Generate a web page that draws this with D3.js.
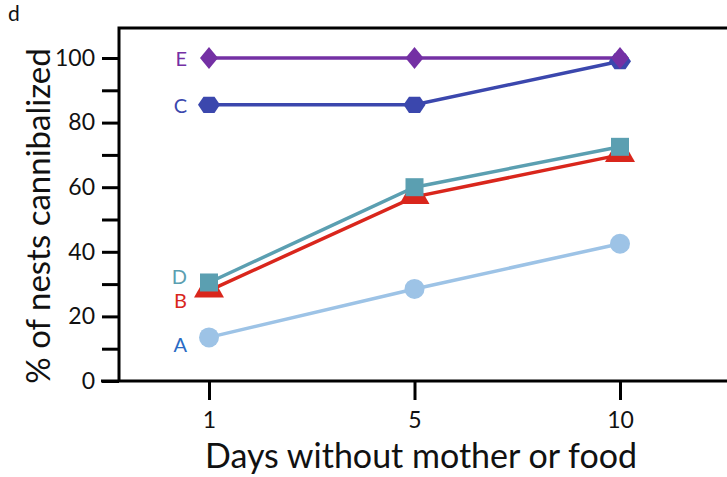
<!DOCTYPE html>
<html><head><meta charset="utf-8">
<script src="https://cdn.jsdelivr.net/npm/d3@7"></script>
<style>body{margin:0;background:#fff}svg{display:block}</style>
</head><body>
<svg id="c" width="727" height="477"></svg>
<script>
const days = ["1", "5", "10"];
const seriesNames = ["A", "B", "C", "D", "E"];
const valuesA = [13.5, 28.5, 42.5];
const valuesB = [28, 57, 70];
const valuesC = [85.5, 85.5, 99];
const valuesD = [30.5, 60, 72.5];
const valuesE = [100, 100, 100];
const yTicks = [0, 20, 40, 60, 80, 100];
const yMinorTicks = [10, 30, 50, 70, 90];

const styles = {
  A: {line: "#9dc3e6", label: "#2a6bc4", shape: "circle"},
  B: {line: "#d9261c", label: "#d9261c", shape: "trap"},
  C: {line: "#3b47ad", label: "#3b47ad", shape: "hex"},
  D: {line: "#5b9fb1", label: "#5b9fb1", shape: "square"},
  E: {line: "#7430a4", label: "#7430a4", shape: "diamond"}
};
const data = {A: valuesA, B: valuesB, C: valuesC, D: valuesD, E: valuesE};

const svg = d3.select("#c");
const font = "Lato, 'Open Sans', sans-serif";
const L = 119, T = 28, B = 381;
const x = d3.scalePoint().domain(days).range([209, 620]);
const y = d3.scaleLinear().domain([0, 100]).range([B, 58]);

// frame
svg.append("path").attr("d", `M${L},${B} V${T} H740`).attr("fill", "none").attr("stroke", "#000").attr("stroke-width", 3);
svg.append("line").attr("x1", L - 18).attr("x2", 740).attr("y1", B).attr("y2", B).attr("stroke", "#000").attr("stroke-width", 3);

// y axis
const yAxis = d3.axisLeft(y).tickValues(yTicks).tickSize(17).tickPadding(7);
const gy = svg.append("g").attr("transform", `translate(${L},0)`).call(yAxis);
gy.select(".domain").remove();
gy.selectAll(".tick line").attr("stroke-width", 3);
gy.selectAll("text").attr("font-family", font).attr("font-size", 23).attr("fill", "#111");
const gym = svg.append("g").attr("transform", `translate(${L},0)`).call(d3.axisLeft(y).tickValues(yMinorTicks).tickSize(17).tickFormat(""));
gym.select(".domain").remove();
gym.selectAll(".tick line").attr("stroke-width", 3);

// x axis
const xAxis = d3.axisBottom(x).tickSize(19).tickPadding(12);
const gx = svg.append("g").attr("transform", `translate(0,${B})`).call(xAxis);
gx.select(".domain").remove();
gx.selectAll(".tick line").attr("stroke-width", 3);
gx.selectAll("text").attr("font-family", font).attr("font-size", 23).attr("fill", "#111");

// titles
svg.append("text").attr("x", 421).attr("y", 468).attr("text-anchor", "middle")
  .attr("font-family", font).attr("font-size", 34).attr("fill", "#111").text("Days without mother or food");
svg.append("text").attr("transform", "translate(50,216) rotate(-90)").attr("text-anchor", "middle")
  .attr("font-family", font).attr("font-size", 33).attr("fill", "#111").text("% of nests cannibalized");
svg.append("text").attr("x", 8).attr("y", 21).attr("font-family", font).attr("font-size", 21).attr("fill", "#111").text("d");

function shapePath(s) {
  switch (s) {
    case "diamond": return "M0,-11 L9,0 L0,11 L-9,0 Z";
    case "hex": { const r = 11; return d3.range(6).map(i => { const a = Math.PI / 3 * i; return (i ? "L" : "M") + (r * Math.cos(a)) + "," + (r * Math.sin(a) * 0.85); }).join("") + "Z"; }
    case "square": return "M-9,-9 H9 V9 H-9 Z";
    case "trap": return "M-7,-7 H7 L15,7 H-15 Z";
  }
}

const line = d3.line().x((d, i) => x(days[i])).y(d => y(d));
const order = ["A", "B", "D", "C", "E"];
order.forEach(k => {
  const st = styles[k];
  svg.append("path").datum(data[k]).attr("d", line).attr("fill", "none")
    .attr("stroke", st.line).attr("stroke-width", 3.5);
});
order.forEach(k => {
  const st = styles[k];
  const g = svg.append("g");
  data[k].forEach((v, i) => {
    if (st.shape === "circle") {
      g.append("circle").attr("cx", x(days[i])).attr("cy", y(v)).attr("r", 10).attr("fill", st.line);
    } else {
      g.append("path").attr("d", shapePath(st.shape)).attr("transform", `translate(${x(days[i])},${y(v)})`).attr("fill", st.line);
    }
  });
  const ly = {A: y(valuesA[0]) + 15, B: y(valuesB[0]) + 17, C: y(valuesC[0]) + 8, D: y(valuesD[0]) + 2, E: y(valuesE[0]) + 8}[k];
  svg.append("text").attr("x", 187).attr("y", ly).attr("text-anchor", "end")
    .attr("font-family", font).attr("font-size", 20).attr("fill", st.label).text(k);
});
</script>
</body></html>
